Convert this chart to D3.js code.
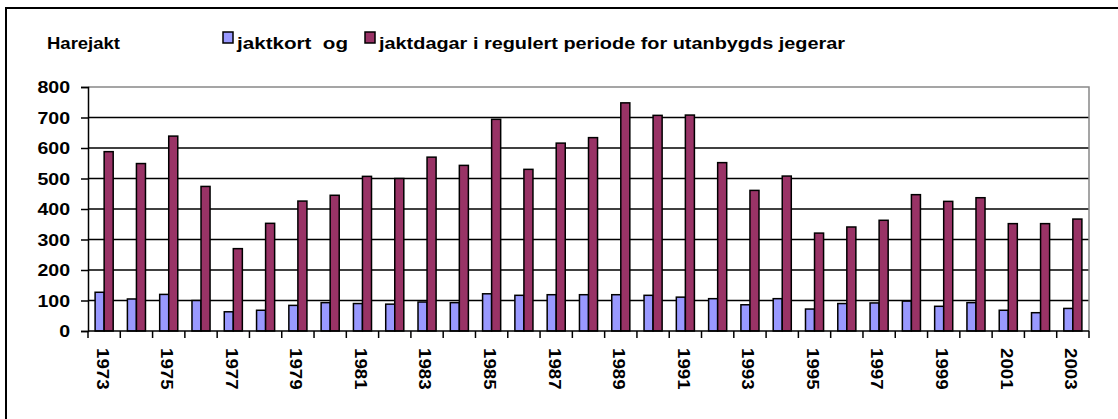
<!DOCTYPE html>
<html>
<head>
<meta charset="utf-8">
<script src="https://cdn.jsdelivr.net/npm/d3@7"></script>
<style>
  body { margin: 0; background: #fff; }
  text { font-family: "Liberation Sans", Arial, sans-serif; font-weight: bold; fill: #000; }
</style>
</head>
<body>
<script>
// Harejakt - jaktkort og jaktdagar
var years = d3.range(1973, 2004).map(String);
var jaktkort = [127, 105, 120, 100, 63, 68, 84, 93, 90, 88, 95, 93, 122, 117, 119, 119, 119, 117, 111, 106,
                86, 106, 72, 90, 92, 98, 81, 93, 68, 60, 74];
var jaktdagar = [588, 549, 639, 474, 270, 353, 426, 445, 507, 500, 570, 543, 694, 530, 616, 634, 748, 707, 708, 552,
                 461, 508, 321, 341, 363, 447, 425, 437, 352, 352, 367];
var yTicks = [0, 100, 200, 300, 400, 500, 600, 700, 800];
var seriesNames = ["jaktkort  og", "jaktdagar i regulert periode for utanbygds jegerar"];
var colors = ["#9999FF", "#993366"];

var width = 1118, height = 419;
var plotL = 88, plotR = 1089, plotT = 87, plotB = 331;
var fs = 17, stretch = 1.15;

var svg = d3.select("body").append("svg")
    .attr("width", width)
    .attr("height", height);

// outer frame
svg.append("rect")
    .attr("x", 6).attr("y", 8)
    .attr("width", 1130).attr("height", 430)
    .attr("fill", "none").attr("stroke", "#000").attr("stroke-width", 2);

var x = d3.scaleBand().domain(years).range([plotL, plotR]).padding(0);
var y = d3.scaleLinear().domain([0, 800]).range([plotB, plotT]);

// gridlines
svg.append("g").selectAll("line")
    .data(yTicks.filter(function (d) { return d > 0 && d < 800; }))
    .enter().append("line")
    .attr("x1", plotL).attr("x2", plotR)
    .attr("y1", function (d) { return y(d); })
    .attr("y2", function (d) { return y(d); })
    .attr("stroke", "#000").attr("stroke-width", 1.5);

// plot border top/right (gray)
svg.append("path")
    .attr("d", "M" + plotL + "," + y(800) + "H" + plotR + "V" + y(0))
    .attr("fill", "none").attr("stroke", "#888").attr("stroke-width", 1.5);

// bars
var bw = x.bandwidth() * 0.28;
var series = [jaktkort, jaktdagar];
series.forEach(function (vals, s) {
    svg.append("g").selectAll("rect")
        .data(vals)
        .enter().append("rect")
        .attr("x", function (d, i) { return x(years[i]) + x.bandwidth() / 2 - bw + s * bw; })
        .attr("y", function (d) { return y(d); })
        .attr("width", bw)
        .attr("height", function (d) { return y(0) - y(d); })
        .attr("fill", colors[s])
        .attr("stroke", "#000").attr("stroke-width", 1.5);
});

// y axis
var yAxis = svg.append("g")
    .attr("transform", "translate(" + plotL + ",0)")
    .call(d3.axisLeft(y).tickValues(yTicks).tickSize(7).tickFormat(""));
yAxis.select(".domain").attr("stroke", "#000").attr("stroke-width", 1.5);
yAxis.selectAll(".tick line").attr("stroke", "#000").attr("stroke-width", 1.5);
svg.append("g").selectAll("text")
    .data(yTicks)
    .enter().append("text")
    .attr("transform", function (d) { return "translate(70," + y(d) + ") scale(" + stretch + ",1)"; })
    .attr("dy", "0.36em")
    .attr("text-anchor", "end")
    .style("font-size", fs + "px")
    .text(function (d) { return d; });

// x axis: ticks between categories
var xg = svg.append("g");
xg.append("line")
    .attr("x1", plotL).attr("x2", plotR)
    .attr("y1", y(0)).attr("y2", y(0))
    .attr("stroke", "#000").attr("stroke-width", 1.5);
xg.selectAll("line.tk")
    .data(years.concat(["end"]))
    .enter().append("line")
    .attr("class", "tk")
    .attr("x1", function (d, i) { return plotL + i * x.step(); })
    .attr("x2", function (d, i) { return plotL + i * x.step(); })
    .attr("y1", y(0)).attr("y2", y(0) + 7)
    .attr("stroke", "#000").attr("stroke-width", 1.5);
xg.selectAll("text")
    .data(years.filter(function (d, i) { return i % 2 === 0; }))
    .enter().append("text")
    .attr("transform", function (d) {
        return "translate(" + (x(d) + x.bandwidth() / 2 - 1.5) + ",348) rotate(90) scale(1.1,1)";
    })
    .attr("dy", "0.36em")
    .style("font-size", fs + "px")
    .text(function (d) { return d; });

// title
svg.append("text")
    .attr("x", 47).attr("y", 49)
    .attr("textLength", 73).attr("lengthAdjust", "spacingAndGlyphs")
    .style("font-size", fs + "px")
    .text("Harejakt");

// legend
var legX = [223, 365], legTextX = [237, 379], legTextW = [111, 466];
seriesNames.forEach(function (name, s) {
    svg.append("rect")
        .attr("x", legX[s]).attr("y", 32)
        .attr("width", 10).attr("height", 11)
        .attr("fill", colors[s])
        .attr("stroke", "#000").attr("stroke-width", 1.5);
    svg.append("text")
        .attr("x", legTextX[s]).attr("y", 49)
        .attr("textLength", legTextW[s]).attr("lengthAdjust", "spacingAndGlyphs")
        .attr("xml:space", "preserve")
        .style("white-space", "pre")
        .style("font-size", fs + "px")
        .text(name);
});
</script>
</body>
</html>
